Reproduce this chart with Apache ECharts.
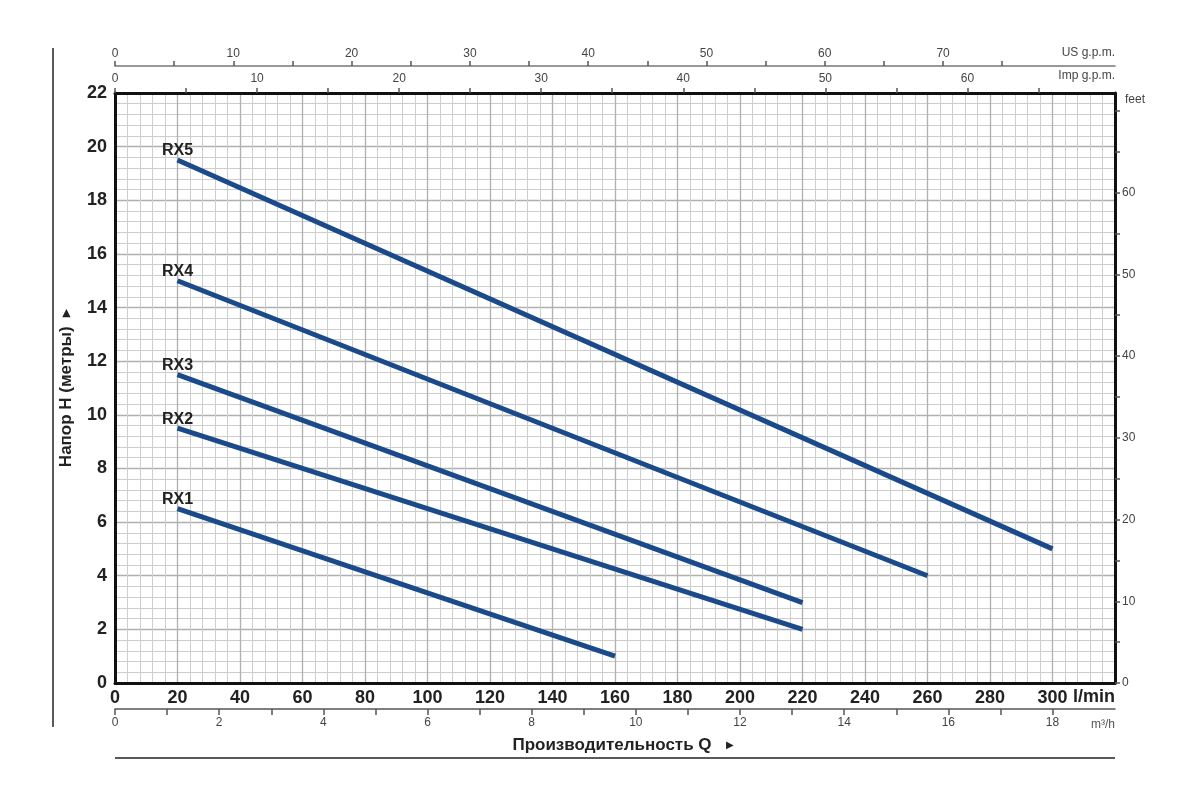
<!DOCTYPE html>
<html>
<head>
<meta charset="utf-8">
<script src="https://cdn.jsdelivr.net/npm/echarts@6/dist/echarts.min.js"></script>
<style>html,body{margin:0;padding:0;background:#fff}#c{width:1200px;height:800px}</style>
</head>
<body>
<div id="c"></div>
<script>
// ---- data ----
const seriesNames = ['RX1', 'RX2', 'RX3', 'RX4', 'RX5'];
const flowStart = [20, 20, 20, 20, 20];        // l/min
const flowEnd = [160, 220, 220, 260, 300];     // l/min
const headStart = [6.5, 9.5, 11.5, 15, 19.5];  // m
const headEnd = [1, 2, 3, 4, 5];               // m

const usGpmTicks = [0,5,10,15,20,25,30,35,40,45,50,55,60,65,70,75];
const usGpmLabels = [0,10,20,30,40,50,60,70];
const impGpmTicks = [0,5,10,15,20,25,30,35,40,45,50,55,60,65];
const impGpmLabels = [0,10,20,30,40,50,60];
const m3hTicks = [0,1,2,3,4,5,6,7,8,9,10,11,12,13,14,15,16,17,18];
const m3hLabels = [0,2,4,6,8,10,12,14,16,18];
const feetTicks = [0,5,10,15,20,25,30,35,40,45,50,55,60,65,70];
const feetLabels = [0,10,20,30,40,50,60];

const QMAX = 320, HMAX = 22;
const US = 3.78541, IMP = 4.54609, M3H = 1000/60, FT = 3.28084;

const NARROW = "'Liberation Sans Narrow', 'Liberation Sans', Arial, sans-serif";
const REG = "'Liberation Sans', Arial, sans-serif";
const LINE = '#1b4a8b';

const chart = echarts.init(document.getElementById('c'), null, {renderer: 'canvas'});

const series = seriesNames.map((n, i) => ({
  name: n,
  type: 'line',
  xAxisIndex: 0, yAxisIndex: 0,
  symbol: 'circle', symbolSize: 0.1,
  lineStyle: {color: LINE, width: 5, cap: 'butt'},
  itemStyle: {color: LINE},
  label: {show: false},
  z: 5,
  data: [
    {value: [flowStart[i], headStart[i]], label: {show: true, position: 'top', distance: 1, formatter: n,
      color: '#222', fontFamily: NARROW, fontWeight: 'bold', fontSize: 16}},
    [flowEnd[i], headEnd[i]]
  ]
}));

const option = {
  animation: false,
  backgroundColor: '#fff',
  grid: {left: 115, right: 85, top: 93, bottom: 117, containLabel: false},
  xAxis: [
    { // l/min
      type: 'value', position: 'bottom', min: 0, max: QMAX, interval: 20,
      axisLine: {show: true, onZero: false, lineStyle: {color: '#111', width: 3}},
      axisTick: {show: false},
      axisLabel: {color: '#222', fontFamily: NARROW, fontWeight: 'bold', fontSize: 18, margin: 6,
        formatter: v => v >= QMAX ? '' : v},
      splitLine: {show: true, lineStyle: {color: '#b0b0b0', width: 1.3}},
      minorTick: {show: false, splitNumber: 5},
      minorSplitLine: {show: true, lineStyle: {color: '#cdcdcd', width: 1}}
    },
    { // m3/h
      type: 'value', position: 'bottom', offset: 26, min: 0, max: QMAX / M3H,
      axisLine: {show: true, onZero: false, lineStyle: {color: '#555', width: 1.5}},
      axisTick: {show: true, inside: false, length: 6, customValues: m3hTicks, lineStyle: {color: '#555', width: 1.5}},
      axisLabel: {show: true, color: '#444', fontFamily: REG, fontSize: 12, margin: 8, customValues: m3hLabels},
      splitLine: {show: false}
    },
    { // US gpm
      type: 'value', position: 'top', offset: 27, min: 0, max: QMAX / US,
      axisLine: {show: true, onZero: false, lineStyle: {color: '#777', width: 1.5}},
      axisTick: {show: true, length: 5, customValues: usGpmTicks, lineStyle: {color: '#555', width: 1.5}},
      axisLabel: {show: true, color: '#444', fontFamily: REG, fontSize: 12, margin: 6, customValues: usGpmLabels},
      splitLine: {show: false}
    },
    { // Imp gpm
      type: 'value', position: 'top', offset: 0, min: 0, max: QMAX / IMP,
      axisLine: {show: true, onZero: false, lineStyle: {color: '#111', width: 3}},
      axisTick: {show: true, length: 5, customValues: impGpmTicks, lineStyle: {color: '#555', width: 1.5}},
      axisLabel: {show: true, color: '#444', fontFamily: REG, fontSize: 12, margin: 8, customValues: impGpmLabels},
      splitLine: {show: false}
    }
  ],
  yAxis: [
    { // metres
      type: 'value', position: 'left', min: 0, max: HMAX, interval: 2,
      name: '{t|Напор H (метры)}  {a|▶}', nameLocation: 'middle', nameGap: 40, nameRotate: 90,
      nameTextStyle: {color: '#222', fontFamily: NARROW, fontWeight: 'bold', fontSize: 17,
        rich: {t: {color: '#222', fontFamily: NARROW, fontWeight: 'bold', fontSize: 17},
               a: {color: '#222', fontSize: 10}}},
      axisLine: {show: true, onZero: false, lineStyle: {color: '#111', width: 3}},
      axisTick: {show: false},
      axisLabel: {color: '#222', fontFamily: NARROW, fontWeight: 'bold', fontSize: 18, margin: 8},
      splitLine: {show: true, lineStyle: {color: '#b0b0b0', width: 1.3}},
      minorTick: {show: false, splitNumber: 5},
      minorSplitLine: {show: true, lineStyle: {color: '#cdcdcd', width: 1}}
    },
    { // feet
      type: 'value', position: 'right', min: 0, max: HMAX * FT,
      axisLine: {show: true, onZero: false, lineStyle: {color: '#111', width: 3}},
      axisTick: {show: true, length: 5, customValues: feetTicks, lineStyle: {color: '#555', width: 1.5}},
      axisLabel: {show: true, color: '#444', fontFamily: REG, fontSize: 12, margin: 7, customValues: feetLabels},
      splitLine: {show: false}
    }
  ],
  graphic: [
    {type: 'line', shape: {x1: 53, y1: 48, x2: 53, y2: 727}, style: {stroke: '#222', lineWidth: 1.5}, silent: true},
    {type: 'line', shape: {x1: 115, y1: 758, x2: 1115, y2: 758}, style: {stroke: '#222', lineWidth: 1.5}, silent: true},
    {type: 'text', x: 1115, y: 697, style: {text: 'l/min', fill: '#222', font: "bold 18px " + NARROW, textAlign: 'right', textVerticalAlign: 'middle'}},
    {type: 'text', x: 1115, y: 725, style: {text: 'm³/h', fill: '#555', font: "12px " + REG, textAlign: 'right', textVerticalAlign: 'middle'}},
    {type: 'text', x: 1115, y: 53, style: {text: 'US g.p.m.', fill: '#444', font: "12px " + REG, textAlign: 'right', textVerticalAlign: 'middle'}},
    {type: 'text', x: 1115, y: 76, style: {text: 'Imp g.p.m.', fill: '#444', font: "12px " + REG, textAlign: 'right', textVerticalAlign: 'middle'}},
    {type: 'text', x: 1125, y: 100, style: {text: 'feet', fill: '#444', font: "12px " + REG, textAlign: 'left', textVerticalAlign: 'middle'}},
    {type: 'text', x: 612, y: 745, style: {text: 'Производительность Q', fill: '#222', font: "bold 17px " + NARROW, textAlign: 'center', textVerticalAlign: 'middle'}},
    {type: 'text', x: 726, y: 745, style: {text: '▶', fill: '#222', font: "10px " + REG, textAlign: 'left', textVerticalAlign: 'middle'}}
  ],
  series: series
};
chart.setOption(option);
</script>
</body>
</html>
